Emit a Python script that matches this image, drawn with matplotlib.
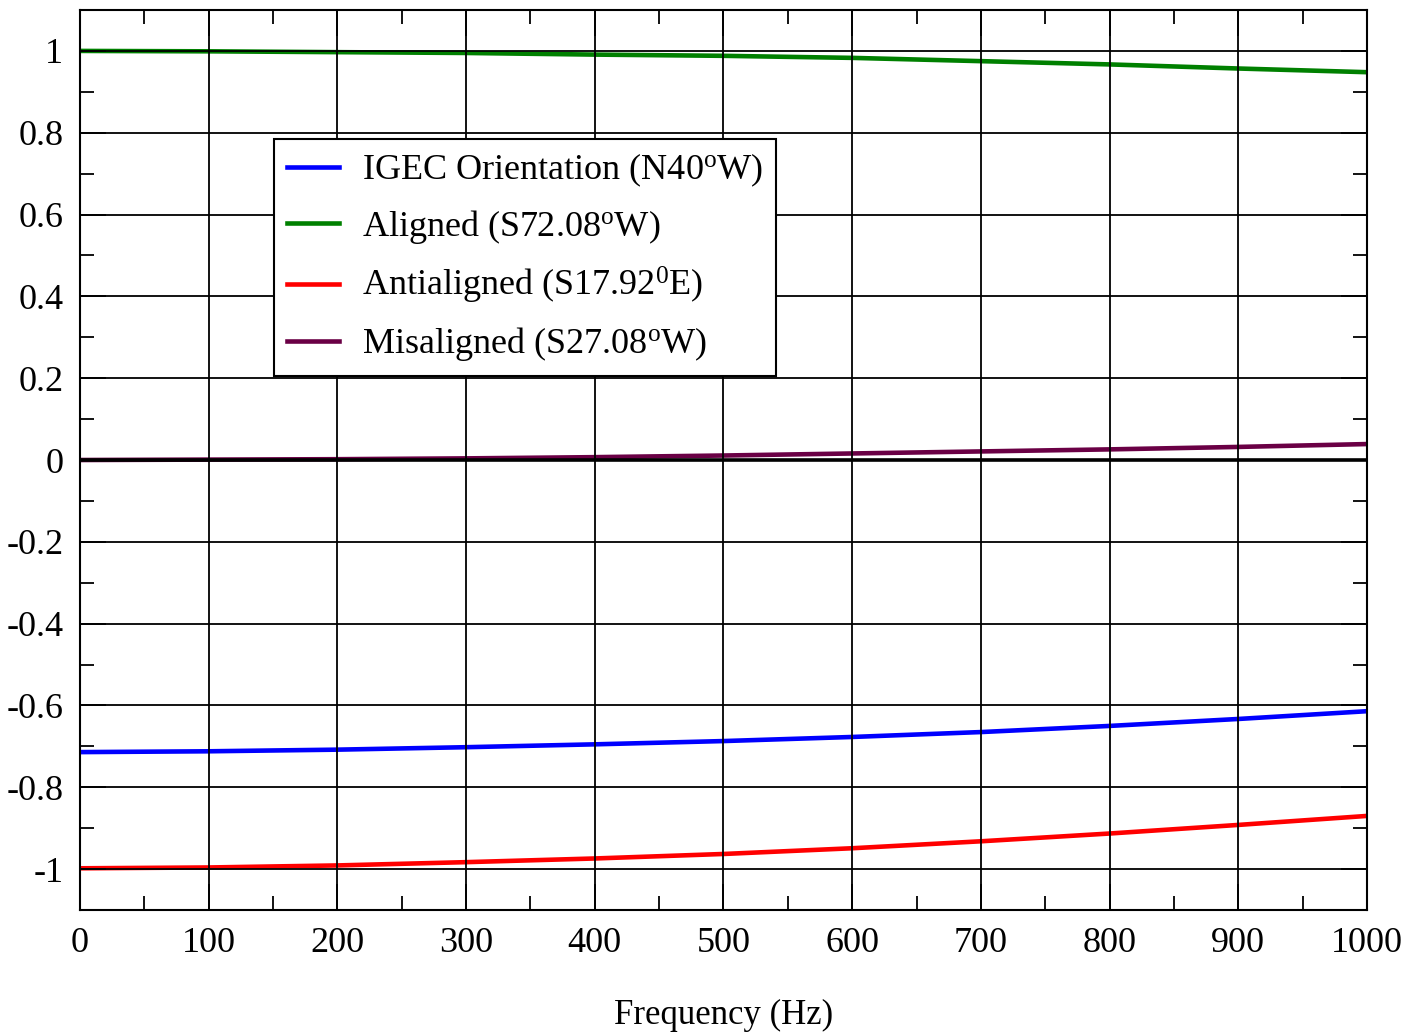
import matplotlib
matplotlib.use("Agg")
import matplotlib.pyplot as plt
from matplotlib.ticker import MultipleLocator

plt.rcParams["font.family"] = ["Liberation Serif", "DejaVu Serif"]
plt.rcParams["mathtext.fontset"] = "custom"
plt.rcParams["mathtext.rm"] = "Liberation Serif"
plt.rcParams["mathtext.it"] = "Liberation Serif"

# values at every 100 Hz
freq = [0, 100, 200, 300, 400, 500, 600, 700, 800, 900, 1000]
igec = [-0.714, -0.712, -0.708, -0.702, -0.695, -0.687, -0.677, -0.665, -0.650, -0.633, -0.614]
aligned = [1.000, 0.999, 0.997, 0.995, 0.991, 0.988, 0.983, 0.975, 0.967, 0.957, 0.948]
antialigned = [-0.998, -0.996, -0.991, -0.983, -0.974, -0.963, -0.949, -0.932, -0.913, -0.892, -0.870]
misaligned = [0.0, 0.001, 0.002, 0.004, 0.007, 0.011, 0.016, 0.021, 0.026, 0.032, 0.039]

labels = [
    r"IGEC Orientation (N40$^{\rm o}$W)",
    r"Aligned (S72.08$^{\rm o}$W)",
    r"Antialigned (S17.92$^{\rm 0}$E)",
    r"Misaligned (S27.08$^{\rm o}$W)",
]
colors = ["#0000ff", "#008000", "#ff0000", "#6a0045"]

fig = plt.figure(figsize=(14.11, 10.32), dpi=100)
ax = fig.add_axes([0.0567, 0.1182, 0.9121, 0.8721])

for ys, lab, c in zip([igec, aligned, antialigned, misaligned], labels, colors):
    ax.plot(freq, ys, color=c, lw=3.3, label=lab, zorder=2)

ax.axhline(0, color="black", lw=2.6, zorder=3)

ax.set_xlim(0, 1000)
ax.set_ylim(-1.1, 1.1)
ax.xaxis.set_major_locator(MultipleLocator(100))
ax.xaxis.set_minor_locator(MultipleLocator(50))
ax.yaxis.set_major_locator(MultipleLocator(0.2))
ax.yaxis.set_minor_locator(MultipleLocator(0.1))
ax.set_yticks([-1, -0.8, -0.6, -0.4, -0.2, 0, 0.2, 0.4, 0.6, 0.8, 1],
              ["-1", "-0.8", "-0.6", "-0.4", "-0.2", "0", "0.2", "0.4", "0.6", "0.8", "1"])

ax.set_axisbelow(False)
ax.grid(True, which="major", color="black", lw=1.3)
ax.tick_params(which="both", direction="in", top=True, right=True,
               labelsize=26, width=1.3, color="black")
ax.tick_params(which="major", length=19, pad=12)
ax.tick_params(which="minor", length=10)
for s in ax.spines.values():
    s.set_linewidth(1.5)

ax.set_xlabel("Frequency (Hz)", fontsize=25, labelpad=28)

leg = ax.legend(loc="upper left", bbox_to_anchor=(0.1507, 0.8567), borderaxespad=0,
                fontsize=26, fancybox=False, framealpha=1, edgecolor="black",
                handlelength=1.45, handletextpad=0.65, labelspacing=0.53, borderpad=0.35)
leg.get_frame().set_linewidth(1.5)
leg.set_zorder(5)

fig.savefig("out.png", dpi=100)
